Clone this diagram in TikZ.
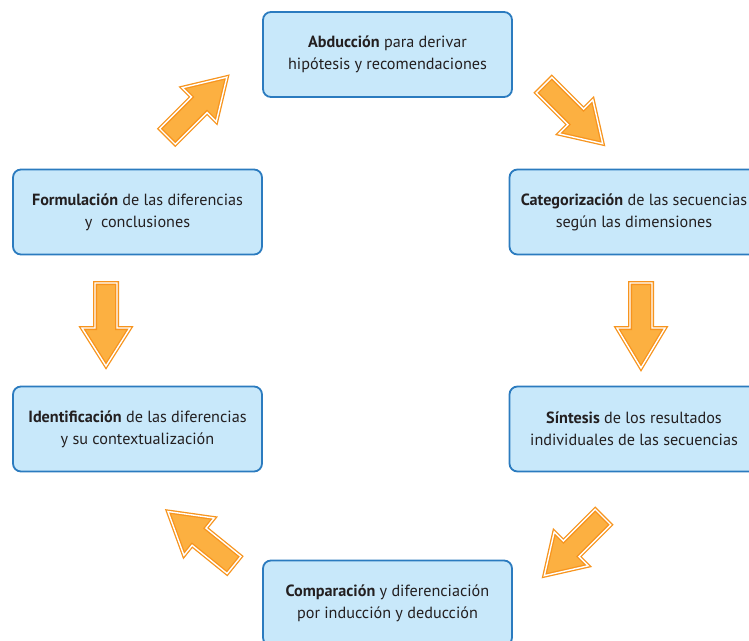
\documentclass[tikz,border=0pt]{standalone}
\usepackage{fontspec}
\setmainfont{PT Sans}
\definecolor{boxfill}{HTML}{C8E8FA}
\definecolor{boxline}{HTML}{2B7BBF}
\definecolor{arrfill}{HTML}{FCB041}
\definecolor{arrline}{HTML}{F7941D}
\definecolor{txt}{HTML}{231F20}
\tikzset{
  stepbox/.style={draw=boxline, fill=boxfill, line width=1.8pt, rounded corners=8pt,
    minimum width=249pt, minimum height=85pt, align=center, text=txt,
    font=\fontsize{16.2}{22}\selectfont},
  pics/blockarrow/.style={code={
    \path[fill=arrfill, draw=arrline, line width=4pt, miter limit=20]
      (0,-11) -- (45,-11) -- (45,-24) -- (#1,0) -- (45,24) -- (45,11) -- (0,11) -- cycle;
    \path[draw=white, line width=1.4pt, miter limit=20]
      (0,-11) -- (45,-11) -- (45,-24) -- (#1,0) -- (45,24) -- (45,11) -- (0,11) -- cycle;
  }}
}
\begin{document}
\begin{tikzpicture}[x=1pt,y=-1pt]
\useasboundingbox (0,0) rectangle (749,640);
\fill[white] (0,0) rectangle (749,640);
\clip (0,0) rectangle (749,640);

\node[stepbox] (abd) at (387.5,54.5) {\textbf{Abducción} para derivar\\hipótesis y recomendaciones};
\node[stepbox] (cat) at (634,212) {\textbf{Categorización} de las secuencias\\según las dimensiones};
\node[stepbox] (sin) at (634,429) {\textbf{Síntesis} de los resultados\\individuales de las secuencias};
\node[stepbox] (com) at (387.5,603) {\textbf{Comparación} y diferenciación\\por inducción y deducción};
\node[stepbox] (ide) at (137.5,429) {\textbf{Identificación} de las diferencias\\y su contextualización};
\node[stepbox] (for) at (137.5,212) {\textbf{Formulación} de las diferencias\\y\ \ conclusiones};

\pic[rotate=45] at (167.5,136.5) {blockarrow=84};
\pic[rotate=-45] at (544,85) {blockarrow=83};
\pic[rotate=-90] at (641,283) {blockarrow=85};
\pic[rotate=-135] at (603,517) {blockarrow=83};
\pic[rotate=141] at (234,565) {blockarrow=85};
\pic[rotate=-90] at (106,283) {blockarrow=83};
\end{tikzpicture}
\end{document}
